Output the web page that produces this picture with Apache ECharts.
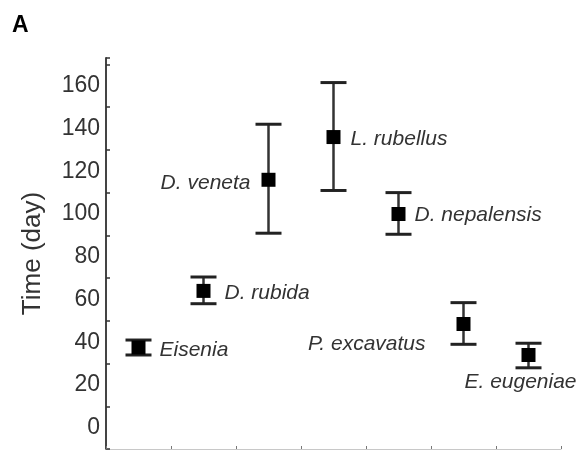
<!DOCTYPE html>
<html>
<head>
<meta charset="utf-8">
<script src="https://cdn.jsdelivr.net/npm/echarts@6/dist/echarts.min.js"></script>
<style>html,body{margin:0;padding:0;background:#fff;}#c{width:579px;height:451px;}</style>
</head>
<body>
<div id="c"></div>
<script>
// ---- data ----
const species = ['Eisenia', 'D. rubida', 'D. veneta', 'L. rubellus', 'D. nepalensis', 'P. excavatus', 'E. eugeniae'];
const meanDays = [37.5, 64, 116, 136, 100, 48.5, 34];
const lowerDays = [34, 58, 91, 111, 90.5, 39, 28];
const upperDays = [41, 70.5, 142, 161.5, 110, 58.5, 39.5];
const yTickLabels = [0, 20, 40, 60, 80, 100, 120, 140, 160];

// ---- styling / layout (not data) ----
const labelPlacement = {
  'Eisenia': { position: 'right', distance: 14, offset: [0, 3] },
  'D. rubida': { position: 'right', distance: 14, offset: [0, 2] },
  'D. veneta': { position: 'left', distance: 11, offset: [0, 3] },
  'L. rubellus': { position: 'right', distance: 10, offset: [0, 2] },
  'D. nepalensis': { position: 'right', distance: 9, offset: [0, 1] },
  'P. excavatus': { position: 'left', distance: 31, offset: [0, 20] },
  'E. eugeniae': { position: 'bottom', distance: 10, offset: [-8, 0] }
};
const FONT = 'Liberation Sans';

const chart = echarts.init(document.getElementById('c'), null, { renderer: 'canvas' });

const errData = species.map((s, i) => [i, lowerDays[i], upperDays[i]]);
const pointData = species.map((s, i) => ({
  value: [i, meanDays[i]],
  name: s,
  label: Object.assign({ show: true }, labelPlacement[s])
}));

const option = {
  animation: false,
  backgroundColor: '#fff',
  title: {
    text: 'A', left: 12, top: 14, padding: 0,
    textStyle: { fontFamily: FONT, fontSize: 23, fontWeight: 'bold', color: '#000' }
  },
  grid: { left: 106, right: 18, top: 58, bottom: 2 },
  xAxis: {
    type: 'category',
    data: species,
    boundaryGap: true,
    axisLine: { show: true, onZero: false, lineStyle: { color: '#c8c8c8', width: 1 } },
    axisTick: { show: true, inside: true, interval: 0, length: 3, lineStyle: { color: '#777' } },
    axisLabel: { show: false },
    splitLine: { show: false }
  },
  yAxis: [
    {
      type: 'value', min: -10, max: 173, interval: 20,
      name: 'Time (day)', nameLocation: 'middle', nameGap: 60, nameRotate: 90,
      nameTextStyle: { fontFamily: FONT, fontSize: 26, color: '#333' },
      axisLine: { show: true, onZero: false, lineStyle: { color: '#444', width: 2 } },
      axisTick: { show: true, inside: true, length: 4, lineStyle: { color: '#333', width: 1.5 } },
      axisLabel: { show: false },
      splitLine: { show: false }
    },
    {
      type: 'value', min: -10, max: 173, interval: 10, position: 'left',
      axisLine: { show: false },
      axisTick: { show: false },
      axisLabel: {
        show: true, margin: 6, fontFamily: FONT, fontSize: 23, color: '#333',
        formatter: v => (yTickLabels.indexOf(v) >= 0 ? String(v) : '')
      },
      splitLine: { show: false }
    }
  ],
  series: [
    {
      type: 'custom',
      data: errData,
      z: 2,
      renderItem: function (params, api) {
        const lo = api.coord([api.value(0), api.value(1)]);
        const hi = api.coord([api.value(0), api.value(2)]);
        const hw = 13;
        const st = { stroke: '#333', lineWidth: 2.5 };
        const cs = { stroke: '#222', lineWidth: 3 };
        return {
          type: 'group',
          children: [
            { type: 'line', shape: { x1: lo[0], y1: lo[1], x2: hi[0], y2: hi[1] }, style: st },
            { type: 'line', shape: { x1: lo[0] - hw, y1: lo[1], x2: lo[0] + hw, y2: lo[1] }, style: cs },
            { type: 'line', shape: { x1: hi[0] - hw, y1: hi[1], x2: hi[0] + hw, y2: hi[1] }, style: cs }
          ]
        };
      }
    },
    {
      type: 'scatter',
      data: pointData,
      z: 3,
      symbol: 'rect',
      symbolSize: 14,
      itemStyle: { color: '#000', opacity: 1 },
      label: {
        show: true,
        formatter: p => p.name,
        fontFamily: FONT, fontSize: 21, fontStyle: 'italic', color: '#333'
      }
    }
  ]
};
chart.setOption(option);
</script>
</body>
</html>
